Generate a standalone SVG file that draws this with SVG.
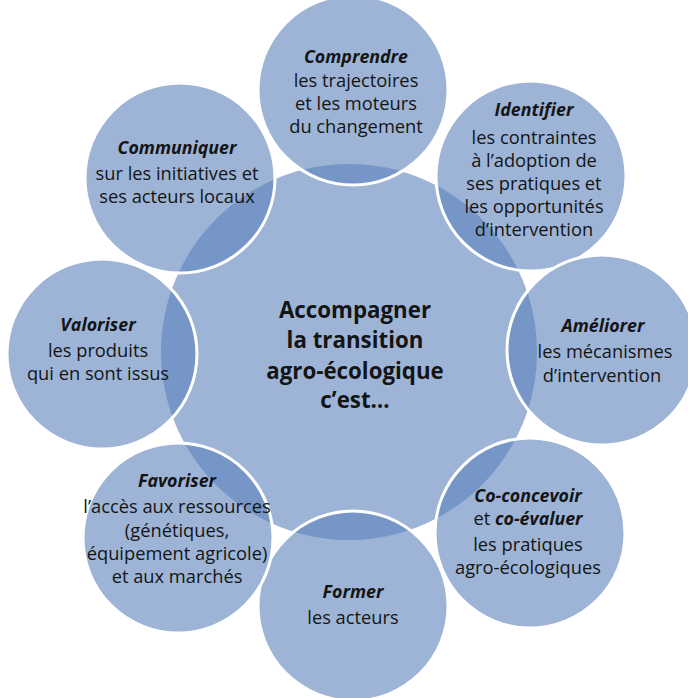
<svg xmlns="http://www.w3.org/2000/svg" width="688" height="698" viewBox="0 0 688 698">
<style>
.c{fill:#5b82bd;fill-opacity:0.6}
.o{fill:#5b82bd;fill-opacity:0.6;stroke:#fff;stroke-width:3}
text{font-family:"Open Sans","Liberation Sans",sans-serif;fill:#141414;text-anchor:middle;font-size:18.3px}
.t{font-weight:bold;font-style:italic;font-size:17.8px}
.m{font-weight:bold;font-size:22.3px}
</style>
<rect width="688" height="698" fill="#fff"/>
<g id="center">
<circle class="c" cx="349" cy="352" r="188"/>
</g>
<g id="comprendre">
<circle class="o" cx="353" cy="90" r="95"/>
<text x="356" y="63" class="t">Comprendre</text>
<text x="356" y="87">les trajectoires</text>
<text x="356" y="110">et les moteurs</text>
<text x="356" y="133">du changement</text>
</g>
<g id="identifier">
<circle class="o" cx="531" cy="176" r="95"/>
<text x="534" y="116" class="t">Identifier</text>
<text x="534" y="144">les contraintes</text>
<text x="534" y="167">à l’adoption de</text>
<text x="534" y="190">ses pratiques et</text>
<text x="534" y="213">les opportunités</text>
<text x="534" y="236">d’intervention</text>
</g>
<g id="ameliorer">
<circle class="o" cx="602" cy="350" r="95"/>
<text x="603" y="332" class="t">Améliorer</text>
<text x="605" y="358">les mécanismes</text>
<text x="602" y="382">d’intervention</text>
</g>
<g id="coconcevoir">
<circle class="o" cx="530" cy="533" r="95"/>
<text x="528" y="502" class="t">Co-concevoir</text>
<text x="528" y="525">et <tspan class="t">co-évaluer</tspan></text>
<text x="528" y="551">les pratiques</text>
<text x="528" y="574">agro-écologiques</text>
</g>
<g id="former">
<circle class="o" cx="353" cy="606" r="95"/>
<text x="353" y="598" class="t">Former</text>
<text x="353" y="624">les acteurs</text>
</g>
<g id="favoriser">
<circle class="o" cx="178" cy="538" r="95"/>
<text x="177" y="487" class="t">Favoriser</text>
<text x="177" y="513">l’accès aux ressources</text>
<text x="177" y="537">(génétiques,</text>
<text x="177" y="560">équipement agricole)</text>
<text x="177" y="583">et aux marchés</text>
</g>
<g id="valoriser">
<circle class="o" cx="102" cy="354" r="95"/>
<text x="98" y="331" class="t">Valoriser</text>
<text x="98" y="357">les produits</text>
<text x="98" y="380">qui en sont issus</text>
</g>
<g id="communiquer">
<circle class="o" cx="180" cy="178" r="95"/>
<text x="177" y="154" class="t">Communiquer</text>
<text x="177" y="180">sur les initiatives et</text>
<text x="177" y="203">ses acteurs locaux</text>
</g>
<g id="title">
<text x="355" y="318" class="m">Accompagner</text>
<text x="355" y="348" class="m">la transition</text>
<text x="355" y="379" class="m">agro-écologique</text>
<text x="355" y="408" class="m">c’est…</text>
</g>
<g id="connectors"/>
</svg>
